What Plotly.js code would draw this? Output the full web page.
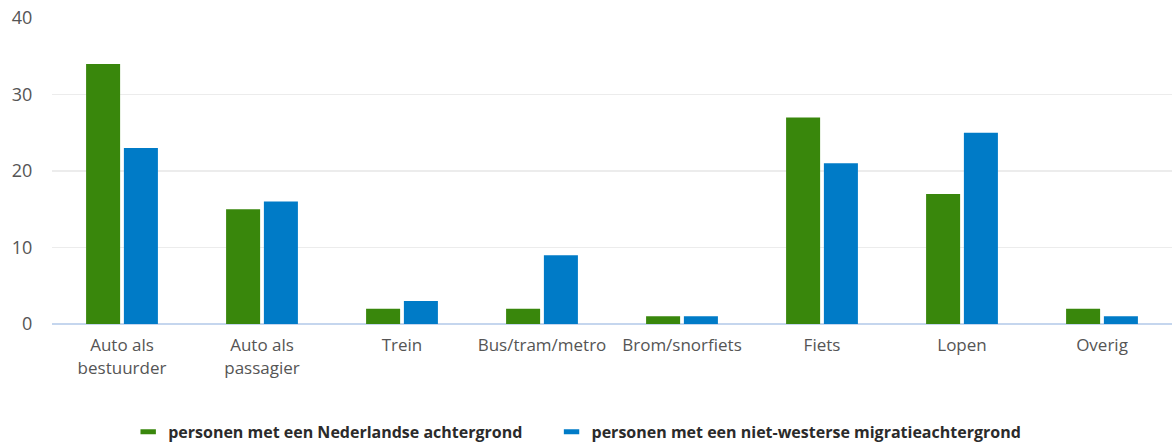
<!DOCTYPE html>
<html>
<head>
<meta charset="utf-8">
<script src="https://cdn.plot.ly/plotly-3.0.1.min.js"></script>
<style>html,body{margin:0;padding:0;background:#fff}#chart{width:1176px;height:447px}</style>
</head>
<body>
<div id="chart"></div>
<script>
const categories = ["Auto als<br>bestuurder", "Auto als<br>passagier", "Trein", "Bus/tram/metro", "Brom/snorfiets", "Fiets", "Lopen", "Overig"];
const nederlands = [34, 15, 2, 2, 1, 27, 17, 2];
const nietWesters = [23, 16, 3, 9, 1, 21, 25, 1];
const seriesNames = ["personen met een Nederlandse achtergrond", "personen met een niet-westerse migratieachtergrond"];
const yTicks = [0, 10, 20, 30, 40];

const green = "#39870c", blue = "#007bc7";

const data = [
  {type: "bar", x: categories, y: nederlands, name: seriesNames[0], marker: {color: green}, showlegend: false, hoverinfo: "y"},
  {type: "bar", x: categories, y: nietWesters, name: seriesNames[1], marker: {color: blue}, showlegend: false, hoverinfo: "y"},
  {type: "scatter", mode: "markers", x: [categories[0]], y: [null], name: seriesNames[0], legend: "legend",
   marker: {symbol: "line-ew", size: 11, color: green, line: {color: green, width: 6}}},
  {type: "scatter", mode: "markers", x: [categories[0]], y: [null], name: seriesNames[1], legend: "legend2",
   marker: {symbol: "line-ew", size: 11, color: blue, line: {color: blue, width: 6}}}
];

const legendFont = {size: 16, color: "#2b2b2b", weight: "bold"};

const layout = {
  width: 1176, height: 447,
  margin: {l: 52, r: 4, t: 18, b: 123, autoexpand: false},
  paper_bgcolor: "#fff", plot_bgcolor: "#fff",
  barmode: "group", bargap: 0.46, bargroupgap: 0.1,
  font: {family: "'Open Sans', sans-serif", color: "#555"},
  xaxis: {
    type: "category", tickfont: {size: 17, color: "#555"}, automargin: false,
    showgrid: false, zeroline: false, showline: false,
    ticks: "outside", ticklen: 6, tickcolor: "rgba(0,0,0,0)"
  },
  yaxis: {
    range: [0, 40], tickvals: yTicks, ticktext: yTicks.map(String), automargin: false,
    tickfont: {size: 18, color: "#555"},
    showgrid: true, gridcolor: "#ececec", gridwidth: 1.5,
    zeroline: true, zerolinecolor: "#c5d6ee", zerolinewidth: 1.5,
    ticks: "outside", ticklen: 15, tickcolor: "rgba(0,0,0,0)", fixedrange: true
  },
  showlegend: true,
  legend: {
    orientation: "h", xref: "container", x: 0.109, xanchor: "left",
    yref: "container", y: 0.034, yanchor: "middle",
    font: legendFont, bgcolor: "rgba(0,0,0,0)"
  },
  legend2: {
    orientation: "h", xref: "container", x: 0.469, xanchor: "left",
    yref: "container", y: 0.034, yanchor: "middle",
    font: legendFont, bgcolor: "rgba(0,0,0,0)"
  }
};

Plotly.newPlot("chart", data, layout, {displayModeBar: false, staticPlot: true});
</script>
</body>
</html>
